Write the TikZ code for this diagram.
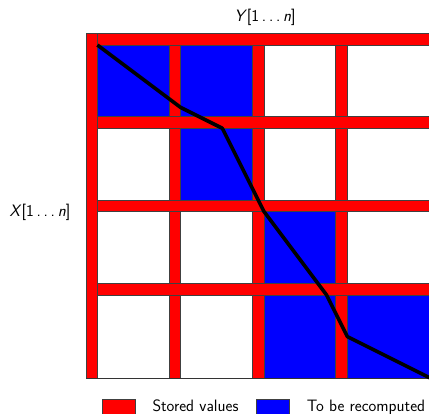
\documentclass[tikz,border=0pt]{standalone}
\begin{document}
\begin{tikzpicture}[x=1pt,y=-1pt,
  bar/.style={fill=red,draw=black!75,line width=0.8pt},
  bluecell/.style={fill=blue,draw=black!75,line width=0.6pt},
  whitecell/.style={fill=white,draw=black!35,line width=0.6pt},
  lbl/.style={font=\sffamily\fontsize{16.5}{19}\selectfont,inner sep=0pt},
  pathline/.style={draw=black,line width=3.6pt,line join=round}]
\useasboundingbox (0,0) rectangle (429,414);
\clip (0,0) rectangle (429,414);
\def\ox{97.4}\def\oy{45.0}\def\u{83.33}\def\w{11.6}
% cells
\foreach \r/\c/\s in {0/0/bluecell,0/1/bluecell,0/2/whitecell,0/3/whitecell,
                      1/0/whitecell,1/1/bluecell,1/2/whitecell,1/3/whitecell,
                      2/0/whitecell,2/1/whitecell,2/2/bluecell,2/3/whitecell,
                      3/0/whitecell,3/1/whitecell,3/2/bluecell,3/3/bluecell}
  \draw[\s] ({\ox+\c*\u},{\oy+\r*\u}) rectangle ({\ox+(\c+1)*\u},{\oy+(\r+1)*\u});
% vertical bars
\draw[bar] (86,33.3) rectangle (\ox,{\oy+4*\u});
\foreach \k in {1,2,3}
  \draw[bar] ({\ox+\k*\u-\w},\oy) rectangle ({\ox+\k*\u},{\oy+4*\u});
% horizontal bars
\draw[bar] (\ox,33.3) rectangle (440,\oy);
\foreach \k in {1,2,3}
  \draw[bar] (\ox,{\oy+\k*\u-\w}) rectangle (440,{\oy+\k*\u});
% bottom border
\draw[black!80,line width=0.8pt] (86,{\oy+4*\u}) -- (440,{\oy+4*\u});
% path
\coordinate (p0) at (\ox,\oy);
\coordinate (p1) at ({\ox+1*\u},{\oy+0.75*\u});
\coordinate (p2) at ({\ox+1.5*\u},{\oy+1*\u});
\coordinate (p3) at ({\ox+2*\u},{\oy+2*\u});
\coordinate (p4) at ({\ox+2.75*\u},{\oy+3*\u});
\coordinate (p5) at ({\ox+3*\u},{\oy+3.5*\u});
\coordinate (p6) at ({\ox+4*\u},{\oy+4*\u});
\draw[pathline] (p0) -- (p1) -- (p2) -- (p3) -- (p4) -- (p5) -- (p6);
% labels
\node[lbl,anchor=base] (ylab) at (265,22) {\textit{Y}[1\,.\,.\,.\,\textit{n}]};
\node[lbl,anchor=base east] (xlab) at (70.5,217) {\textit{X}[1\,.\,.\,.\,\textit{n}]};
% legend
\draw[bar] (102.7,399.3) rectangle (135,416);
\node[lbl,anchor=base west] (lstored) at (152.3,411.5) {Stored values};
\draw[bluecell] (256.7,399.3) rectangle (289,416);
\node[lbl,anchor=base west] (lrecomp) at (306.7,411.5) {To be recomputed};
\end{tikzpicture}
\end{document}
